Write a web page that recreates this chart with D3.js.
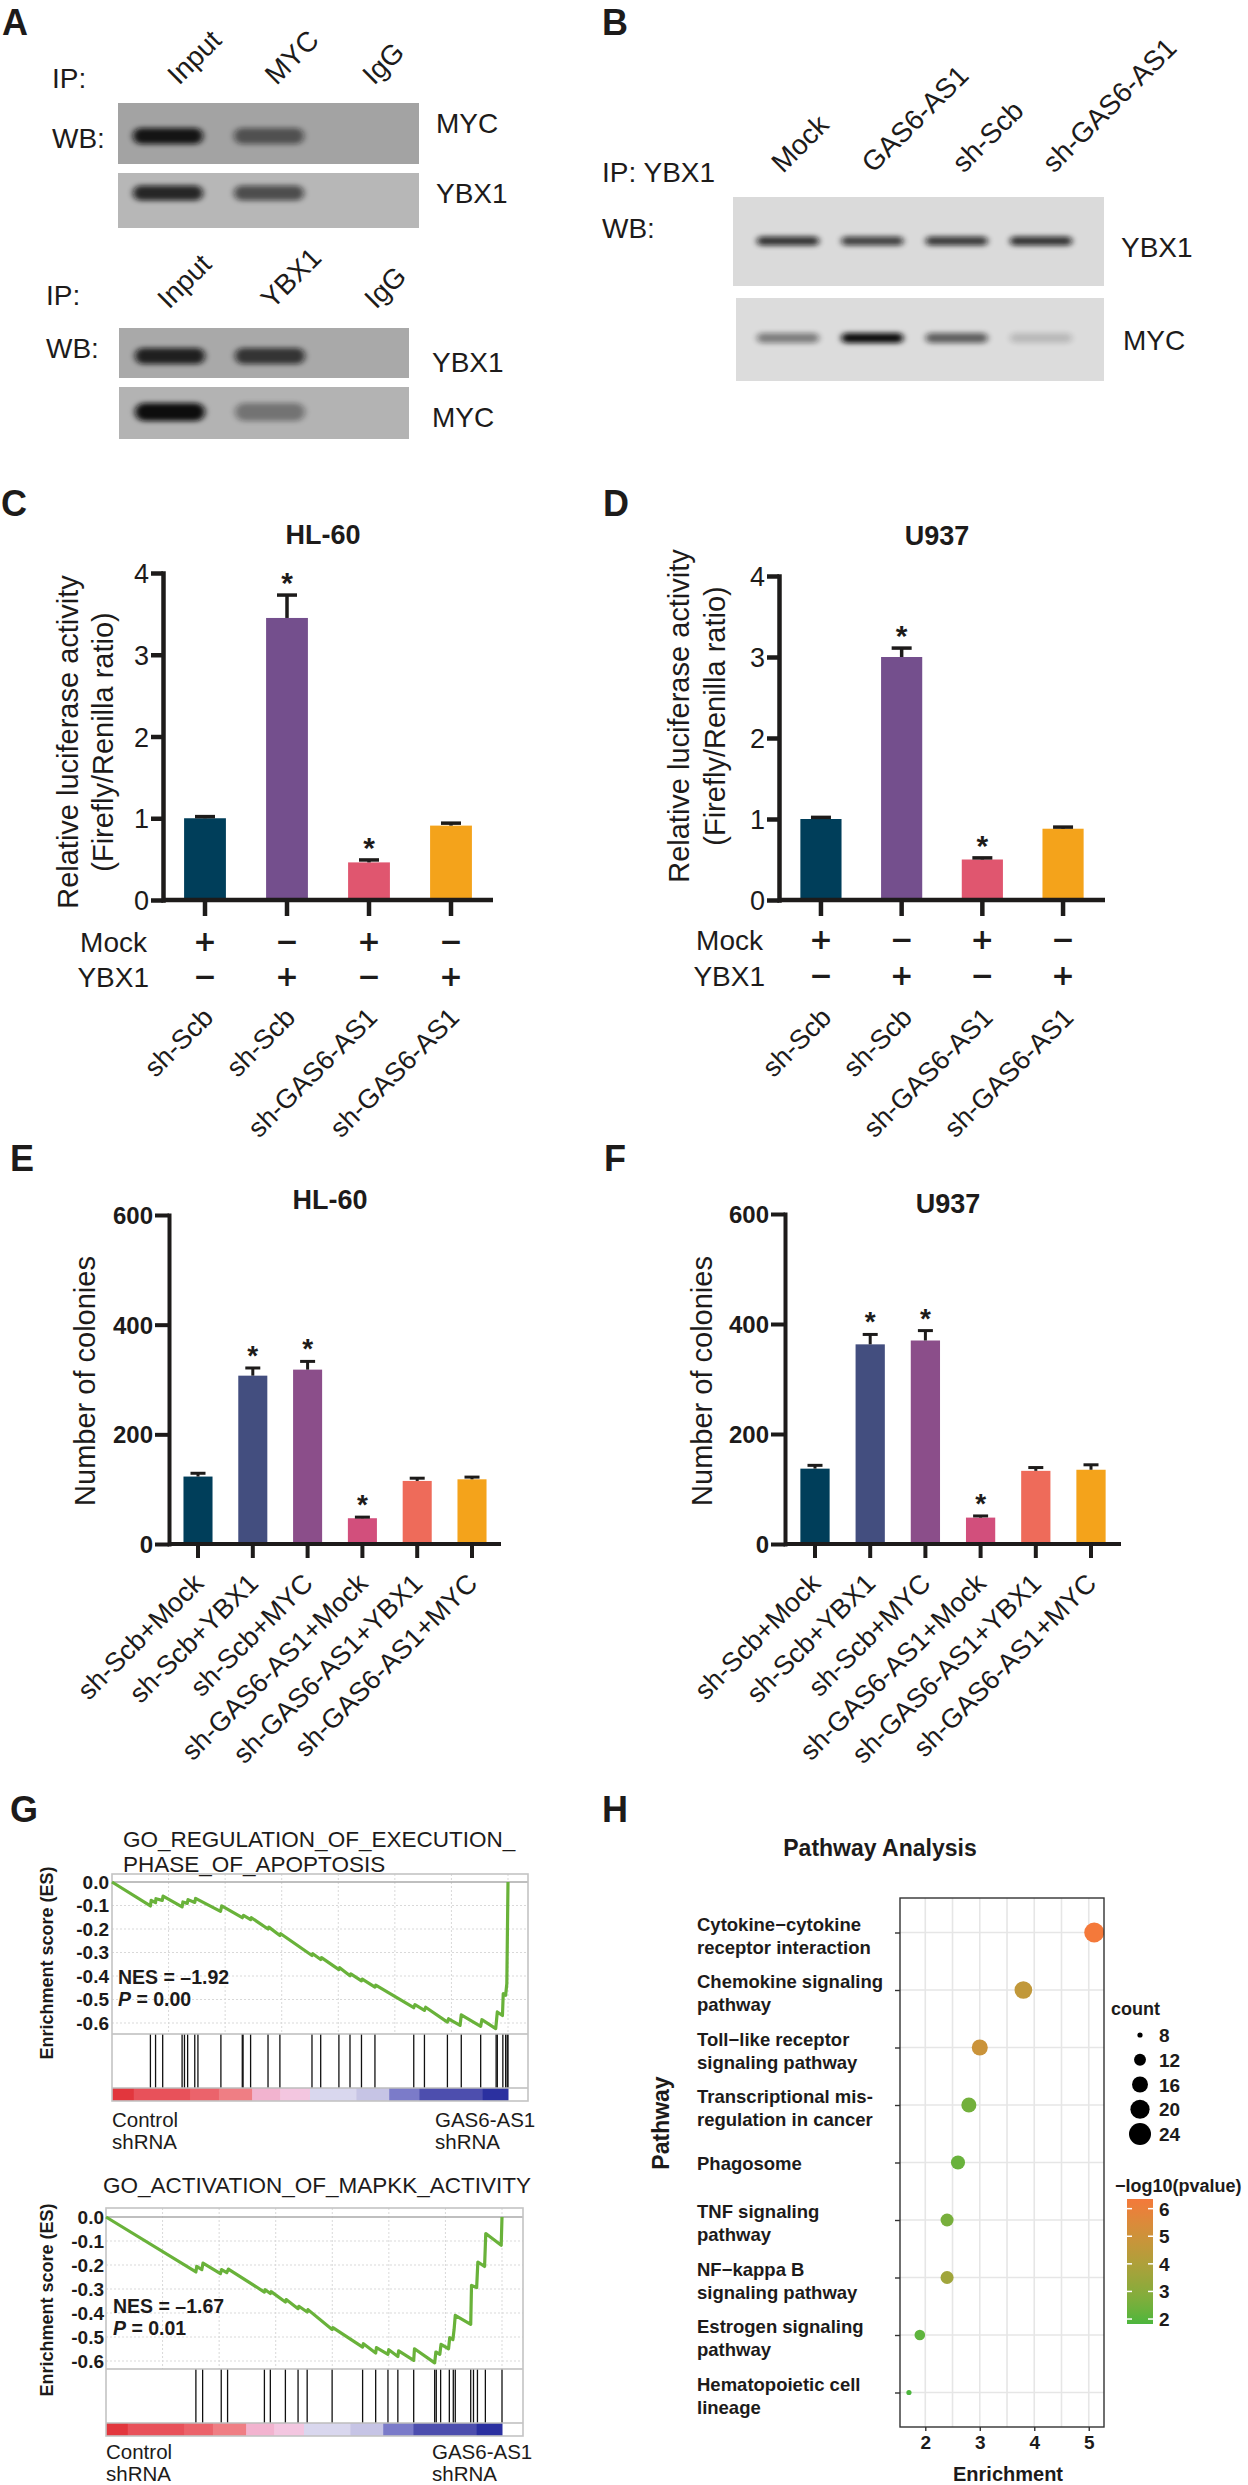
<!DOCTYPE html>
<html><head><meta charset="utf-8">
<script src="https://cdn.jsdelivr.net/npm/d3@7"></script>
<style>
body{margin:0;background:#fff;}
svg{display:block;font-family:"Liberation Sans",Arial,Helvetica,sans-serif;}
</style></head><body>
<svg id="fig" width="1248" height="2485"></svg>
<script>
// ================= DATA =================
// Panel A / B western blots (relative band intensity per lane)
const lanesAtop = ["Input", "MYC", "IgG"];
const lanesAbottom = ["Input", "YBX1", "IgG"];
const bandsA1_MYC = [0.95, 0.55, 0];
const bandsA1_YBX1 = [0.85, 0.62, 0];
const bandsA2_YBX1 = [0.88, 0.75, 0];
const bandsA2_MYC = [1.0, 0.38, 0];
const lanesB = ["Mock", "GAS6-AS1", "sh-Scb", "sh-GAS6-AS1"];
const bandsB_YBX1 = [0.82, 0.75, 0.78, 0.82];
const bandsB_MYC = [0.45, 1.0, 0.6, 0.16];

// Panels C / D luciferase
const lucGroups = ["sh-Scb", "sh-Scb", "sh-GAS6-AS1", "sh-GAS6-AS1"];
const lucMock = ["+", "\u2212", "+", "\u2212"];
const lucYBX1 = ["\u2212", "+", "\u2212", "+"];
const lucHL60 = [1.00, 3.45, 0.46, 0.91];
const lucHL60Err = [0.02, 0.28, 0.03, 0.03];
const lucU937 = [1.00, 3.00, 0.50, 0.88];
const lucU937Err = [0.02, 0.11, 0.02, 0.02];
const lucSig = [0, 1, 1, 0];
const lucColors = ["#003e5a", "#744f8d", "#e0566f", "#f4a31b"];
const lucTicks = [0, 1, 2, 3, 4];

// Panels E / F colonies
const colGroups = ["sh-Scb+Mock", "sh-Scb+YBX1", "sh-Scb+MYC", "sh-GAS6-AS1+Mock", "sh-GAS6-AS1+YBX1", "sh-GAS6-AS1+MYC"];
const colHL60 = [123, 307, 318, 47, 115, 118];
const colHL60Err = [6, 14, 15, 2, 5, 4];
const colU937 = [137, 363, 370, 48, 133, 135];
const colU937Err = [6, 18, 18, 3, 6, 9];
const colSig = [0, 1, 1, 1, 0, 0];
const colColors = ["#003e5a", "#434e7f", "#8b4e8a", "#d24f7c", "#ee6b5a", "#f4a31b"];
const colTicks = [0, 200, 400, 600];

// Panel G GSEA
const esTicks = [0, -0.1, -0.2, -0.3, -0.4, -0.5, -0.6];
const rankColors = [[0, .055, "#e2363d"], [.055, .198, "#e8515a"], [.198, .27, "#eb636b"], [.27, .354, "#ef7e84"],
  [.354, .425, "#f2b3cf"], [.425, .5, "#f3c6e0"], [.5, .617, "#d9d7ee"], [.617, .7, "#c6c4e5"],
  [.7, .776, "#7b7bc9"], [.776, .936, "#4d4eae"], [.936, 1, "#2b30a0"]];
const gsea1Curve = [[0, 0], [.097, -.102], [.099, -.078], [.110, -.088], [.111, -.071], [.127, -.078], [.129, -.060],
  [.177, -.106], [.179, -.085], [.190, -.091], [.192, -.075], [.209, -.087], [.211, -.070], [.274, -.125], [.277, -.102],
  [.329, -.152], [.332, -.142], [.350, -.160], [.352, -.152], [.394, -.200], [.396, -.192], [.424, -.228], [.426, -.220],
  [.505, -.313], [.507, -.305], [.527, -.330], [.529, -.322], [.573, -.373], [.575, -.365], [.601, -.399], [.603, -.391],
  [.630, -.421], [.632, -.413], [.664, -.447], [.666, -.439], [.762, -.535], [.765, -.522], [.789, -.546], [.792, -.533],
  [.847, -.596], [.850, -.582], [.879, -.610], [.882, -.565], [.931, -.614], [.934, -.586], [.969, -.624], [.973, -.553],
  [.986, -.568], [.988, -.475], [.994, -.482], [.997, -.433], [1.0, 0]];
const gsea1Hits = [.097, .110, .128, .177, .183, .191, .209, .217, .275, .329, .331, .350, .394, .424, .505, .527,
  .573, .601, .630, .664, .762, .789, .847, .882, .931, .970, .973, .987, .994, .998, 1.0];
const gsea2Curve = [[0, 0], [.227, -.229], [.229, -.206], [.242, -.219], [.245, -.192], [.289, -.236], [.292, -.219],
  [.305, -.232], [.309, -.217], [.400, -.313], [.402, -.303], [.415, -.319], [.417, -.311], [.453, -.354], [.455, -.344],
  [.485, -.382], [.487, -.372], [.508, -.396], [.510, -.386], [.571, -.469], [.573, -.461], [.648, -.542], [.650, -.528],
  [.681, -.567], [.683, -.544], [.712, -.572], [.714, -.553], [.737, -.581], [.739, -.558], [.777, -.597], [.779, -.549],
  [.830, -.608], [.833, -.5625], [.843, -.572], [.846, -.531], [.865, -.549], [.868, -.503], [.876, -.511], [.879, -.469],
  [.882, -.410], [.921, -.447], [.923, -.285], [.936, -.294], [.939, -.1875], [.956, -.206], [.959, -.069], [.998, -.118], [1.0, 0]];
const gsea2Hits = [.227, .244, .291, .307, .400, .415, .453, .485, .508, .571, .648, .681, .712, .737, .777, .830,
  .834, .845, .867, .877, .882, .921, .928, .938, .958, 1.0];

// Panel H pathway dot plot
const pathways = ["Cytokine\u2212cytokine\nreceptor interaction", "Chemokine signaling\npathway", "Toll\u2212like receptor\nsignaling pathway",
  "Transcriptional mis-\nregulation in cancer", "Phagosome", "TNF signaling\npathway", "NF\u2212kappa B\nsignaling pathway",
  "Estrogen signaling\npathway", "Hematopoietic cell\nlineage"];
const pathEnrichment = [5.1, 3.8, 3.0, 2.8, 2.6, 2.4, 2.4, 1.9, 1.7];
const pathCount = [21, 18, 16, 15, 14, 13, 13, 11, 8];
const pathLogP = [6.35, 4.6, 4.9, 2.5, 2.3, 2.6, 3.6, 2.1, 1.82];
const countBreaks = [8, 12, 16, 20, 24];
const logPBreaks = [2, 3, 4, 5, 6];
const enrichTicks = [2, 3, 4, 5];

// ================= DRAW =================
const INK = "#1d1b1a";
const svg = d3.select("#fig");
svg.append("rect").attr("width", 1248).attr("height", 2485).attr("fill", "#fff");
const defs = svg.append("defs");
defs.append("filter").attr("id", "blur").attr("x", "-50%").attr("y", "-150%").attr("width", "200%").attr("height", "400%")
  .append("feGaussianBlur").attr("stdDeviation", "3.2 2.6");

function txt(s, x, y, o = {}) {
  const t = svg.append("text").attr("x", x).attr("y", y).attr("fill", o.fill || INK)
    .attr("font-size", o.size || 28).text(s);
  if (o.weight) t.attr("font-weight", o.weight);
  if (o.anchor) t.attr("text-anchor", o.anchor);
  if (o.transform) t.attr("transform", o.transform);
  if (o.dy) t.attr("dy", o.dy);
  if (o.family) t.attr("font-family", o.family);
  return t;
}

// panel letters
[["A", 2, 35], ["B", 602, 35], ["C", 1, 516], ["D", 603, 516], ["E", 10, 1171], ["F", 604, 1171], ["G", 10, 1822], ["H", 602, 1822]]
  .forEach(d => txt(d[0], d[1], d[2], { size: 36, weight: "bold" }));

// ---------- blots ----------
function blot(x0, y0, x1, y1, bg, xs, lanes, intens, bandY, bandW, bandH) {
  svg.append("rect").attr("x", x0).attr("y", y0).attr("width", x1 - x0).attr("height", y1 - y0).attr("fill", bg);
  svg.append("g").selectAll("rect").data(intens).join("rect")
    .attr("x", (d, i) => xs(lanes[i]) - bandW / 2).attr("y", bandY - bandH / 2)
    .attr("width", bandW).attr("height", bandH).attr("rx", bandH / 2)
    .attr("fill", "#0c0c0c").attr("opacity", d => d).attr("filter", "url(#blur)");
}
const xAt = d3.scalePoint().domain(lanesAtop).range([168, 370]);
const xAb = d3.scalePoint().domain(lanesAbottom).range([170, 370]);
blot(118, 103, 419, 164, "#a3a3a3", xAt, lanesAtop, bandsA1_MYC, 136, 70, 16);
blot(118, 173, 419, 228, "#b7b7b7", xAt, lanesAtop, bandsA1_YBX1, 193, 70, 15);
blot(119, 328, 409, 378, "#a9a9a9", xAb, lanesAbottom, bandsA2_YBX1, 356, 70, 16);
blot(119, 387, 409, 439, "#b3b3b3", xAb, lanesAbottom, bandsA2_MYC, 412, 70, 18);
const xB = d3.scalePoint().domain(lanesB).range([788, 1041]);
blot(733, 197, 1104, 286, "#dadada", xB, lanesB, bandsB_YBX1, 241, 62, 9);
blot(736, 298, 1104, 381, "#dcdcdc", xB, lanesB, bandsB_MYC, 338, 62, 10);

// blot labels
txt("IP:", 52, 88); txt("WB:", 52, 148);
txt("IP:", 46, 305); txt("WB:", 46, 358);
txt("MYC", 436, 133); txt("YBX1", 436, 203);
txt("YBX1", 432, 372); txt("MYC", 432, 427);
txt("IP: YBX1", 602, 182); txt("WB:", 602, 238);
txt("YBX1", 1121, 257); txt("MYC", 1123, 350);
const labAt = d3.scalePoint().domain(lanesAtop).range([179, 374]);
const labAb = d3.scalePoint().domain(lanesAbottom).range([169, 376]);
const labB = d3.scalePoint().domain(lanesB).range([783, 1054]);
lanesAtop.forEach(l => txt(l, 0, 0, { transform: `translate(${labAt(l)},86) rotate(-45)` }));
lanesAbottom.forEach(l => txt(l, 0, 0, { transform: `translate(${labAb(l)},310) rotate(-45)` }));
lanesB.forEach(l => txt(l, 0, 0, { transform: `translate(${labB(l)},174) rotate(-45)` }));

// ---------- bar charts ----------
function barChart(c) {
  const g = svg.append("g");
  const n = c.values.length;
  const x = d3.scaleBand().domain(d3.range(n)).range(c.xRange).paddingInner(c.pad).paddingOuter(c.pad / 2);
  const y = d3.scaleLinear().domain([0, c.yMax]).range(c.yRange);
  const y0 = y(0);
  const cx = i => x(i) + x.bandwidth() / 2;
  g.selectAll(".bar").data(c.values).join("rect").attr("class", "bar")
    .attr("x", (d, i) => x(i)).attr("width", x.bandwidth())
    .attr("y", d => y(d)).attr("height", d => y0 - y(d)).attr("fill", (d, i) => c.colors[i]);
  const eg = g.append("g").attr("stroke", INK).attr("stroke-width", c.errW);
  c.values.forEach((v, i) => {
    const top = y(v + c.errors[i]);
    eg.append("line").attr("x1", cx(i)).attr("x2", cx(i)).attr("y1", y(v)).attr("y2", top);
    eg.append("line").attr("x1", cx(i) - c.capW / 2).attr("x2", cx(i) + c.capW / 2).attr("y1", top).attr("y2", top);
    if (c.sig[i]) g.append("text").attr("x", cx(i)).attr("y", top - c.starGap).attr("text-anchor", "middle")
      .attr("font-size", c.starSize).attr("font-weight", "bold").attr("fill", INK).text("*");
  });
  const ya = g.append("g").attr("transform", `translate(${c.axisX},0)`)
    .call(d3.axisLeft(y).tickValues(c.ticks).tickFormat(d3.format("d")).tickSize(c.tickLen).tickSizeOuter(0).tickPadding(c.tickPad));
  ya.attr("font-family", null).attr("font-size", null);
  ya.select(".domain").attr("stroke", INK).attr("stroke-width", c.axisW).attr("stroke-linecap", "square");
  ya.selectAll(".tick line").attr("stroke", INK).attr("stroke-width", c.axisW);
  ya.selectAll(".tick text").attr("fill", INK).attr("font-size", c.tickFont).attr("font-weight", c.tickWeight).attr("dy", "0.36em");
  g.append("line").attr("x1", c.axisX).attr("x2", c.xEnd).attr("y1", y0).attr("y2", y0).attr("stroke", INK).attr("stroke-width", c.axisW);
  const xa = g.append("g").attr("transform", `translate(0,${y0})`)
    .call(d3.axisBottom(x).tickSize(c.xTickLen).tickSizeOuter(0).tickFormat(""));
  xa.select(".domain").remove();
  xa.selectAll(".tick line").attr("stroke", INK).attr("stroke-width", c.axisW);
  txt(c.title, c.titleX, c.titleY, { size: 27, weight: "bold", anchor: "middle" });
  c.ylab.forEach((s, j) => txt(s, 0, 0, { size: 29, anchor: "middle", dy: "0.35em", transform: `translate(${c.ylabX[j]},${c.ylabY}) rotate(-90)` }));
  c.labels.forEach((s, i) => txt(s, 0, 0, { size: c.labFont, anchor: "end", transform: `translate(${cx(i) + c.labDx},${c.labY}) rotate(-45)` }));
  if (c.rows) {
    c.rows.forEach(r => {
      txt(r.name, r.nameX, r.y, { size: 28, anchor: "end" });
      r.signs.forEach((s, i) => txt(s, cx(i), r.y - 1, { size: 28, weight: "bold", anchor: "middle", family: "'DejaVu Sans', sans-serif" }));
    });
  }
}

barChart({
  values: lucHL60, errors: lucHL60Err, sig: lucSig, colors: lucColors, labels: lucGroups,
  xRange: [164, 492], pad: 0.49, yMax: 4, yRange: [900, 573], axisX: 163, xEnd: 493, ticks: lucTicks,
  tickLen: 12, tickPad: 2, tickFont: 27, tickWeight: "normal", axisW: 4.5, errW: 3.5, capW: 20, starSize: 30, starGap: 2,
  xTickLen: 16, labY: 1019, labDx: 10, labFont: 27, title: "HL-60", titleX: 323, titleY: 544,
  ylab: ["Relative luciferase activity", "(Firefly/Renilla ratio)"], ylabX: [68, 103], ylabY: 742,
  rows: [{ name: "Mock", nameX: 147, y: 952, signs: lucMock }, { name: "YBX1", nameX: 149, y: 987, signs: lucYBX1 }]
});
barChart({
  values: lucU937, errors: lucU937Err, sig: lucSig, colors: lucColors, labels: lucGroups,
  xRange: [780.6, 1103.4], pad: 0.49, yMax: 4, yRange: [900, 576], axisX: 779, xEnd: 1105, ticks: lucTicks,
  tickLen: 12, tickPad: 2, tickFont: 27, tickWeight: "normal", axisW: 4.5, errW: 3.5, capW: 20, starSize: 30, starGap: 2,
  xTickLen: 16, labY: 1019, labDx: 12, labFont: 27, title: "U937", titleX: 937, titleY: 545,
  ylab: ["Relative luciferase activity", "(Firefly/Renilla ratio)"], ylabX: [679, 715], ylabY: 716,
  rows: [{ name: "Mock", nameX: 763, y: 950, signs: lucMock }, { name: "YBX1", nameX: 765, y: 986, signs: lucYBX1 }]
});
barChart({
  values: colHL60, errors: colHL60Err, sig: colSig, colors: colColors, labels: colGroups,
  xRange: [170.6, 499.4], pad: 0.47, yMax: 600, yRange: [1544, 1215], axisX: 169, xEnd: 501, ticks: colTicks,
  tickLen: 14, tickPad: 2, tickFont: 24, tickWeight: "bold", axisW: 4, errW: 3, capW: 15, starSize: 28, starGap: 3,
  xTickLen: 14, labY: 1585, labDx: 7, labFont: 27, title: "HL-60", titleX: 330, titleY: 1209,
  ylab: ["Number of colonies"], ylabX: [85], ylabY: 1381
});
barChart({
  values: colU937, errors: colU937Err, sig: colSig, colors: colColors, labels: colGroups,
  xRange: [787.4, 1118.6], pad: 0.47, yMax: 600, yRange: [1544, 1214], axisX: 785, xEnd: 1121, ticks: colTicks,
  tickLen: 14, tickPad: 2, tickFont: 24, tickWeight: "bold", axisW: 4, errW: 3, capW: 15, starSize: 28, starGap: 3,
  xTickLen: 14, labY: 1585, labDx: 7, labFont: 27, title: "U937", titleX: 948, titleY: 1213,
  ylab: ["Number of colonies"], ylabX: [702], ylabY: 1381
});

// ---------- GSEA ----------
function gsea(c) {
  const g = svg.append("g");
  const x = d3.scaleLinear().domain([0, 1]).range([c.x0, c.x1]);
  const y = d3.scaleLinear().domain([0, -0.6]).range([c.zeroY, c.minY]);
  const grid = g.append("g").attr("stroke", "#d9d9d9").attr("stroke-width", 1).attr("stroke-dasharray", "2,2");
  esTicks.slice(1).forEach(t => grid.append("line").attr("x1", c.x0).attr("x2", c.boxR).attr("y1", y(t)).attr("y2", y(t)));
  d3.range(1, 8).forEach(k => grid.append("line").attr("x1", x(k / 7)).attr("x2", x(k / 7)).attr("y1", c.top).attr("y2", c.esBottom));
  g.append("line").attr("x1", c.x0).attr("x2", c.boxR).attr("y1", y(0)).attr("y2", y(0)).attr("stroke", "#aaaaaa").attr("stroke-width", 1.6);
  g.selectAll(".cb").data(rankColors).join("rect").attr("x", d => x(d[0])).attr("width", d => x(d[1]) - x(d[0]) + 0.5)
    .attr("y", c.hitsBottom).attr("height", c.barBottom - c.hitsBottom).attr("fill", d => d[2]);
  g.selectAll(".hit").data(c.hits).join("line").attr("x1", d => x(d)).attr("x2", d => x(d))
    .attr("y1", c.esBottom).attr("y2", c.hitsBottom).attr("stroke", "#111").attr("stroke-width", 1.3);
  [c.esBottom, c.hitsBottom].forEach(yy => g.append("line").attr("x1", c.x0).attr("x2", c.boxR).attr("y1", yy).attr("y2", yy)
    .attr("stroke", "#bdbdbd").attr("stroke-width", 1.5));
  g.append("rect").attr("x", c.x0).attr("y", c.top).attr("width", c.boxR - c.x0).attr("height", c.barBottom - c.top)
    .attr("fill", "none").attr("stroke", "#c4c4c4").attr("stroke-width", 1.6);
  g.append("path").datum(c.curve).attr("d", d3.line().x(d => x(d[0])).y(d => y(d[1])))
    .attr("fill", "none").attr("stroke", "#69b23a").attr("stroke-width", 3.2).attr("stroke-linejoin", "round");
  esTicks.forEach(t => txt(t === 0 ? "0.0" : d3.format(".1f")(t).replace("\u2212", "-"), c.tickX, y(t), { size: 19, weight: "bold", anchor: "end", dy: "0.36em" }));
  txt("Enrichment score (ES)", 0, 0, { size: 18, weight: "bold", anchor: "middle", dy: "0.35em", transform: `translate(47,${c.ylabY}) rotate(-90)` });
  c.title.forEach((s, j) => txt(s, c.titleX, c.titleY[j], { size: 22.5 }));
  txt(c.nes, c.statX, c.nesY, { size: 19.5, weight: "bold" });
  const p = txt("", c.statX, c.nesY + 22, { size: 19.5, weight: "bold" });
  p.append("tspan").attr("font-style", "italic").text("P");
  p.append("tspan").text(" = " + c.p);
  txt("Control", c.x0, c.lowY, { size: 20.5 });
  txt("shRNA", c.x0, c.lowY + 22, { size: 20.5 });
  txt("GAS6-AS1", c.gasX, c.lowY, { size: 20.5 });
  txt("shRNA", c.gasX, c.lowY + 22, { size: 20.5 });
}
gsea({
  x0: 112, x1: 508, boxR: 528, top: 1874, zeroY: 1882, minY: 2023, esBottom: 2034, hitsBottom: 2088, barBottom: 2101,
  curve: gsea1Curve, hits: gsea1Hits, tickX: 109, ylabY: 1963,
  title: ["GO_REGULATION_OF_EXECUTION_", "PHASE_OF_APOPTOSIS"], titleX: 123, titleY: [1847, 1872],
  nes: "NES = \u20131.92", p: "0.00", statX: 118, nesY: 1984, lowY: 2127, gasX: 435
});
gsea({
  x0: 106, x1: 502, boxR: 523, top: 2208, zeroY: 2217, minY: 2361, esBottom: 2369, hitsBottom: 2423, barBottom: 2436,
  curve: gsea2Curve, hits: gsea2Hits, tickX: 104, ylabY: 2300,
  title: ["GO_ACTIVATION_OF_MAPKK_ACTIVITY"], titleX: 103, titleY: [2193],
  nes: "NES = \u20131.67", p: "0.01", statX: 113, nesY: 2313, lowY: 2459, gasX: 432
});

// ---------- Pathway dot plot ----------
(function () {
  const g = svg.append("g");
  const L = 900, R = 1104, T = 1898, B = 2427;
  const x = d3.scaleLinear().domain([1.536, 5.28]).range([L, R]);
  const y = d3.scalePoint().domain(d3.range(pathways.length)).range([T, B]).padding(0.6);
  const r = d3.scaleRadial().domain([8, 24]).range([2.6, 11]);
  const col = d3.scaleLinear().domain([1.82, 6.35]).range(["#4cb63d", "#f4793a"]).interpolate(d3.interpolateLab);
  g.append("rect").attr("x", L).attr("y", T).attr("width", R - L).attr("height", B - T).attr("fill", "#fff");
  const grid = g.append("g").attr("stroke", "#e6e6e6").attr("stroke-width", 1.6);
  [2, 2.5, 3, 3.5, 4, 4.5, 5].forEach(v => grid.append("line").attr("x1", x(v)).attr("x2", x(v)).attr("y1", T).attr("y2", B));
  pathways.forEach((p, i) => grid.append("line").attr("x1", L).attr("x2", R).attr("y1", y(i)).attr("y2", y(i)));
  defs.append("clipPath").attr("id", "hclip").append("rect").attr("x", L).attr("y", T).attr("width", R - L).attr("height", B - T);
  g.append("g").attr("clip-path", "url(#hclip)").selectAll("circle").data(pathEnrichment).join("circle")
    .attr("cx", d => x(d)).attr("cy", (d, i) => y(i)).attr("r", (d, i) => r(pathCount[i])).attr("fill", (d, i) => col(pathLogP[i]));
  g.append("rect").attr("x", L).attr("y", T).attr("width", R - L).attr("height", B - T).attr("fill", "none")
    .attr("stroke", "#333").attr("stroke-width", 1.4);
  const ya = g.append("g").attr("transform", `translate(${L},0)`).call(d3.axisLeft(y).tickSize(5).tickFormat(""));
  ya.select(".domain").remove();
  ya.selectAll(".tick line").attr("stroke", "#333").attr("stroke-width", 1.4);
  const xa = g.append("g").attr("transform", `translate(0,${B})`)
    .call(d3.axisBottom(x).tickValues(enrichTicks).tickFormat(d3.format("d")).tickSize(4).tickPadding(5));
  xa.attr("font-family", null).attr("font-size", null);
  xa.select(".domain").remove();
  xa.selectAll(".tick line").attr("stroke", "#333").attr("stroke-width", 1.4);
  xa.selectAll(".tick text").attr("font-size", 19).attr("font-weight", "bold").attr("fill", INK);
  pathways.forEach((p, i) => {
    const lines = p.split("\n");
    const t = g.append("text").attr("font-size", 18.5).attr("font-weight", "bold").attr("fill", INK);
    const base = lines.length === 2 ? y(i) - 2 : y(i) + 7;
    lines.forEach((s, j) => t.append("tspan").attr("x", 697).attr("y", base + j * 23).text(s));
  });
  txt("Pathway Analysis", 880, 1856, { size: 23, weight: "bold", anchor: "middle" });
  txt("Enrichment", 1008, 2481, { size: 20, weight: "bold", anchor: "middle" });
  txt("Pathway", 0, 0, { size: 23, weight: "bold", anchor: "middle", dy: "0.35em", transform: "translate(661,2123) rotate(-90)" });
  txt("count", 1111, 2015, { size: 18, weight: "bold" });
  const ly = d3.scalePoint().domain(countBreaks).range([2035, 2134]);
  countBreaks.forEach(v => {
    g.append("circle").attr("cx", 1140).attr("cy", ly(v)).attr("r", r(v)).attr("fill", "#000");
    txt(String(v), 1159, ly(v) + 7, { size: 19, weight: "bold" });
  });
  txt("\u2212log10(pvalue)", 1115, 2192, { size: 18, weight: "bold" });
  const cy = d3.scaleLinear().domain([6.35, 1.82]).range([2199, 2324]);
  const grad = defs.append("linearGradient").attr("id", "hgrad").attr("x1", 0).attr("x2", 0).attr("y1", 0).attr("y2", 1);
  d3.range(0, 1.0001, 0.1).forEach(t => grad.append("stop").attr("offset", t).attr("stop-color", col(6.35 - t * (6.35 - 1.82))));
  g.append("rect").attr("x", 1127).attr("y", 2199).attr("width", 26).attr("height", 125).attr("fill", "url(#hgrad)");
  logPBreaks.forEach(v => {
    g.append("line").attr("x1", 1127).attr("x2", 1132).attr("y1", cy(v)).attr("y2", cy(v)).attr("stroke", "#fff").attr("stroke-width", 1.5);
    g.append("line").attr("x1", 1148).attr("x2", 1153).attr("y1", cy(v)).attr("y2", cy(v)).attr("stroke", "#fff").attr("stroke-width", 1.5);
    txt(String(v), 1159, cy(v) + 7, { size: 19, weight: "bold" });
  });
})();
</script>
</body></html>
